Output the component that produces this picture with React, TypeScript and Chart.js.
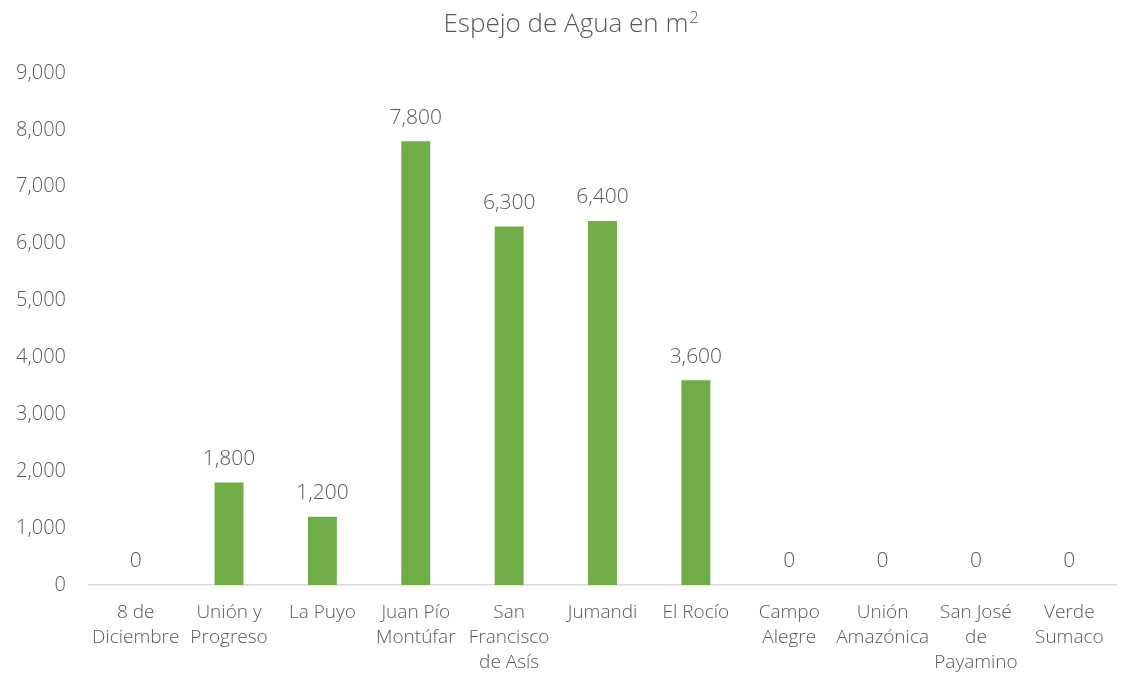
import React, { useEffect, useRef } from "react";
import { Chart, registerables } from "chart.js";

Chart.register(...registerables);

const categories: string[][] = [
  ["8 de", "Diciembre"],
  ["Unión y", "Progreso"],
  ["La Puyo"],
  ["Juan Pío", "Montúfar"],
  ["San", "Francisco", "de Asís"],
  ["Jumandi"],
  ["El Rocío"],
  ["Campo", "Alegre"],
  ["Unión", "Amazónica"],
  ["San José", "de", "Payamino"],
  ["Verde", "Sumaco"],
];
const values: number[] = [0, 1800, 1200, 7800, 6300, 6400, 3600, 0, 0, 0, 0];
const titleMain = "Espejo de Agua en m";
const titleSup = "2";

const FONT = "'Open Sans', 'Segoe UI', sans-serif";
const TEXT = "#595959";

const valueLabels = {
  id: "valueLabels",
  afterDatasetsDraw(chart: any) {
    const ctx = chart.ctx;
    const meta = chart.getDatasetMeta(0);
    ctx.save();
    ctx.font = `300 21px ${FONT}`;
    ctx.fillStyle = TEXT;
    ctx.textAlign = "center";
    ctx.textBaseline = "bottom";
    meta.data.forEach((bar: any, i: number) => {
      const v = chart.data.datasets[0].data[i] as number;
      ctx.fillText(v.toLocaleString("en-US"), bar.x, bar.y - 13);
    });
    ctx.restore();
  },
};

const supTitle = {
  id: "supTitle",
  afterDraw(chart: any) {
    const ctx = chart.ctx;
    ctx.save();
    ctx.fillStyle = TEXT;
    ctx.textBaseline = "alphabetic";
    ctx.textAlign = "left";
    ctx.font = `300 26px ${FONT}`;
    const w = ctx.measureText(titleMain).width;
    ctx.font = `300 16px ${FONT}`;
    const ws = ctx.measureText(titleSup).width;
    const total = w + 1 + ws;
    const cx = 571;
    const x0 = cx - total / 2;
    ctx.font = `300 26px ${FONT}`;
    ctx.fillText(titleMain, x0, 32);
    ctx.font = `300 16px ${FONT}`;
    ctx.fillText(titleSup, x0 + w + 1, 23);
    ctx.restore();
  },
};

export default function App() {
  const ref = useRef<HTMLCanvasElement>(null);
  useEffect(() => {
    if (!ref.current) return;
    const chart = new Chart(ref.current, {
      type: "bar",
      data: {
        labels: categories,
        datasets: [
          {
            data: values,
            backgroundColor: "#70AD47",
            barPercentage: 0.62,
            categoryPercentage: 0.5,
          },
        ],
      },
      options: {
        animation: false,
        responsive: false,
        maintainAspectRatio: false,
        layout: { padding: { left: 0, right: 5, top: 73, bottom: 0 } },
        plugins: {
          legend: { display: false },
          tooltip: { enabled: false },
          title: { display: false },
        },
        scales: {
          x: {
            grid: { display: false, drawTicks: false },
            border: { display: true, color: "#D9D9D9", width: 1.5 },
            ticks: {
              color: TEXT,
              font: { family: FONT, size: 19, weight: "300" as any, lineHeight: 1.32 },
              padding: 15,
              maxRotation: 0,
              autoSkip: false,
            },
            afterFit: (s: any) => {
              s.height = 90;
            },
          },
          y: {
            min: 0,
            max: 9000,
            grid: { display: false, drawTicks: false },
            border: { display: false },
            ticks: {
              stepSize: 1000,
              color: TEXT,
              font: { family: FONT, size: 20, weight: "300" as any },
              padding: 23,
              callback: (v: any) => Number(v).toLocaleString("en-US"),
            },
            afterFit: (s: any) => {
              s.width = 89;
            },
          },
        },
      },
      plugins: [valueLabels, supTitle],
    });
    return () => chart.destroy();
  }, []);
  return (
    <div style={{ position: "fixed", left: 0, top: 0, width: 1121, height: 675, background: "#fff" }}>
      <canvas ref={ref} width={1121} height={675} style={{ width: 1121, height: 675 }} />
    </div>
  );
}
